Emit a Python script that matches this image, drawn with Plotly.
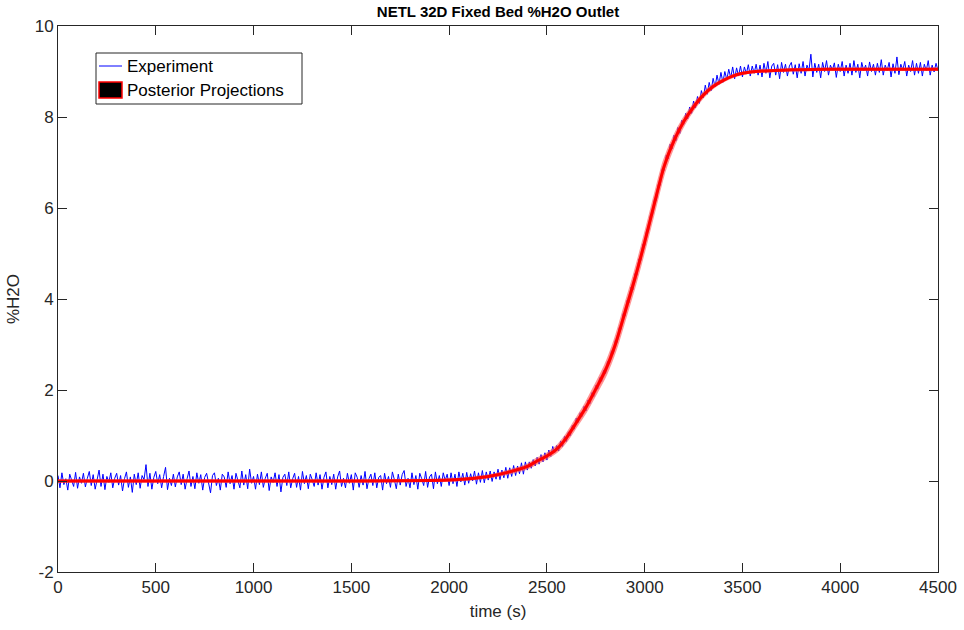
import plotly.graph_objects as go

# Experiment: %H2O at outlet, sampled every 10 s (0 .. 4500 s)
exp_time = [i * 10 for i in range(451)]
exp_h2o = [
    0.12, -0.15, 0.18, -0.08, 0.05, -0.2, 0.15, 0.03, -0.12, 0.19, -0.16, 0.09, -0.05, 0.17, -0.13, 0.06, 0.21, -0.1, 0.14, -0.18,
    0.08, 0.24, -0.12, 0.15, -0.19, 0.1, -0.03, 0.18, -0.15, 0.06, 0.17, -0.09, 0.12, -0.22, 0.05, 0.2, -0.14, 0.09, -0.25, 0.15,
    -0.08, 0.18, -0.16, 0.12, 0.03, 0.36, -0.12, 0.17, -0.18, 0.08, 0.21, -0.06, 0.14, -0.15, 0.1, 0.3, -0.19, 0.06, -0.1, 0.15,
    -0.13, 0.09, 0.2, -0.08, 0.15, -0.18, 0.05, 0.22, -0.12, 0.1, -0.17, 0.18, -0.05, 0.14, -0.2, 0.08, 0.17, -0.09, -0.26, 0.12,
    0.18, -0.1, 0.06, -0.2, 0.15, 0.09, -0.14, 0.2, -0.06, 0.12, -0.18, 0.17, 0.03, -0.15, 0.22, -0.09, 0.14, -0.17, 0.26, -0.05,
    0.1, -0.18, 0.15, -0.08, 0.2, -0.14, 0.06, 0.17, -0.21, 0.09, -0.03, 0.18, -0.12, 0.14, -0.24, 0.08, 0.15, -0.1, 0.2, -0.15,
    0.05, 0.17, -0.14, 0.1, -0.2, 0.21, -0.06, 0.12, -0.17, 0.15, 0.03, -0.12, 0.18, -0.09, 0.14, -0.18, 0.08, 0.2, -0.15, 0.1,
    -0.08, 0.15, -0.18, 0.09, 0.22, -0.12, 0.06, -0.15, 0.17, -0.05, 0.14, -0.2, 0.18, 0.08, -0.14, 0.12, -0.09, 0.21, -0.17, 0.05,
    0.15, -0.1, 0.18, -0.15, 0.08, 0.12, -0.2, 0.17, -0.06, 0.1, -0.14, 0.2, 0.03, -0.17, 0.15, -0.09, 0.14, 0.23, -0.12, 0.06,
    -0.15, 0.18, -0.08, 0.12, -0.18, 0.17, 0.05, -0.1, 0.21, -0.14, 0.09, 0.15, -0.17, 0.2, -0.06, 0.12, -0.12, 0.18, 0.01, 0.15,
    -0.1, 0.18, -0.06, 0.15, -0.12, 0.2, -0.02, 0.17, -0.09, 0.19, -0.05, 0.16, 0.0, 0.22, -0.07, 0.18, -0.03, 0.23, -0.04, 0.2,
    0.02, 0.22, -0.01, 0.2, 0.04, 0.26, 0.03, 0.24, 0.07, 0.3, 0.06, 0.29, 0.1, 0.34, 0.12, 0.33, 0.16, 0.4, 0.15, 0.42,
    0.24, 0.42, 0.28, 0.47, 0.33, 0.52, 0.37, 0.58, 0.42, 0.62, 0.46, 0.68, 0.54, 0.76, 0.62, 0.78, 0.66, 0.88, 0.76, 0.98,
    0.87, 1.08, 1.0, 1.22, 1.14, 1.38, 1.29, 1.5, 1.42, 1.64, 1.54, 1.78, 1.7, 1.94, 1.86, 2.1, 2.02, 2.27, 2.19, 2.44,
    2.36, 2.63, 2.58, 2.86, 2.8, 3.1, 3.05, 3.38, 3.34, 3.68, 3.63, 3.97, 3.92, 4.26, 4.2, 4.56, 4.52, 4.88, 4.84, 5.2,
    5.17, 5.52, 5.5, 5.86, 5.84, 6.2, 6.17, 6.52, 6.5, 6.87, 6.83, 7.16, 7.08, 7.4, 7.3, 7.6, 7.48, 7.77, 7.64, 7.93,
    7.84, 8.08, 7.96, 8.22, 8.08, 8.35, 8.2, 8.45, 8.3, 8.58, 8.42, 8.7, 8.5, 8.76, 8.58, 8.85, 8.66, 8.92, 8.72, 8.98,
    8.76, 9.0, 8.82, 9.05, 8.86, 9.1, 8.84, 9.08, 8.9, 9.12, 8.88, 9.1, 8.95, 9.15, 8.9, 9.12, 8.96, 9.16, 8.92, 9.14,
    8.88, 9.18, 8.96, 9.22, 8.86, 9.12, 9.18, 8.92, 9.15, 8.84, 9.2, 8.98, 9.16, 8.9, 9.12, 9.2, 8.94, 9.15, 8.86, 9.17,
    8.96, 9.22, 8.9, 9.14, 9.02, 9.38, 8.88, 9.18, 8.98, 9.16, 8.86, 9.2, 9.0, 9.24, 8.92, 9.14, 9.03, 9.19, 8.87, 9.16,
    9.0, 9.22, 8.9, 9.14, 8.96, 9.18, 8.92, 9.24, 8.98, 9.16, 8.86, 9.2, 9.02, 9.14, 8.9, 9.21, 9.0, 9.16, 8.92, 9.18,
    8.98, 9.26, 8.92, 9.14, 9.02, 9.2, 8.88, 9.17, 8.96, 9.32, 8.93, 9.16, 9.03, 9.22, 8.9, 9.14, 9.0, 9.24, 8.92, 9.18,
    8.96, 9.2, 8.9, 9.16, 9.02, 9.24, 8.92, 9.14, 8.99, 9.18, 9.02,
]

# Posterior projections (mean and spread)
post_time = [0, 500, 1000, 1500, 2000, 2100, 2200, 2300, 2400, 2450, 2500, 2550, 2600, 2650, 2700, 2750,
             2800, 2850, 2900, 2950, 3000, 3050, 3100, 3150, 3200, 3250, 3300, 3350, 3400, 3450, 3500,
             3600, 3700, 3800, 4000, 4500]
post_mean = [0, 0, 0, 0, 0.02, 0.05, 0.1, 0.19, 0.32, 0.44, 0.55, 0.7, 0.95, 1.28, 1.62, 2.02,
             2.44, 3.0, 3.72, 4.45, 5.25, 6.1, 6.92, 7.48, 7.9, 8.22, 8.48, 8.67, 8.8, 8.9, 8.96,
             9.01, 9.03, 9.04, 9.05, 9.05]
post_low = [0, 0, 0, 0, 0.02, 0.04, 0.09, 0.17, 0.29, 0.4, 0.51, 0.65, 0.89, 1.21, 1.54, 1.93,
            2.34, 2.89, 3.6, 4.33, 5.13, 5.98, 6.81, 7.4, 7.84, 8.18, 8.45, 8.65, 8.79, 8.89, 8.96,
            9.01, 9.03, 9.04, 9.05, 9.05]
post_high = [0, 0, 0, 0, 0.02, 0.06, 0.11, 0.21, 0.35, 0.48, 0.59, 0.75, 1.01, 1.35, 1.7, 2.11,
             2.54, 3.11, 3.84, 4.57, 5.37, 6.22, 7.03, 7.56, 7.96, 8.26, 8.51, 8.69, 8.81, 8.91, 8.96,
             9.01, 9.03, 9.04, 9.05, 9.05]

x_ticks = [0, 500, 1000, 1500, 2000, 2500, 3000, 3500, 4000, 4500]
y_ticks = [-2, 0, 2, 4, 6, 8, 10]
legend_labels = ["Experiment", "Posterior Projections"]

FONT = "Liberation Sans, Arial, Helvetica, sans-serif"
AX = "#262626"

# plot area in pixels
L, R, T, B = 58, 938, 26, 572
def px(xp):
    return (xp - L) / (R - L)
def py(yp):
    return (B - yp) / (B - T)

fig = go.Figure()

fig.add_trace(go.Scatter(
    x=exp_time, y=exp_h2o, mode="lines", name=legend_labels[0],
    line=dict(color="#0000ff", width=1), showlegend=False,
))

# posterior band (light red)
fig.add_trace(go.Scatter(
    x=post_time, y=post_low, mode="lines", line=dict(color="rgba(255,80,80,0.6)", width=3, shape="spline", smoothing=0.8),
    showlegend=False, hoverinfo="skip",
))
fig.add_trace(go.Scatter(
    x=post_time, y=post_high, mode="lines", line=dict(color="rgba(255,80,80,0.6)", width=3, shape="spline", smoothing=0.8),
    fill="tonexty", fillcolor="rgba(255,80,80,0.5)",
    showlegend=False, hoverinfo="skip",
))
fig.add_trace(go.Scatter(
    x=post_time, y=post_mean, mode="lines", line=dict(color="#ff0000", width=3, shape="spline", smoothing=0.8),
    name=legend_labels[1], showlegend=False, hoverinfo="skip",
))

# manual legend (MATLAB style)
shapes = [
    dict(type="rect", xref="paper", yref="paper", x0=px(96), x1=px(302), y0=py(104), y1=py(53),
         line=dict(color=AX, width=1), fillcolor="white", layer="above"),
    dict(type="line", xref="paper", yref="paper", x0=px(99), x1=px(122), y0=py(66), y1=py(66),
         line=dict(color="#0000ff", width=1), layer="above"),
    dict(type="rect", xref="paper", yref="paper", x0=px(99), x1=px(122), y0=py(98), y1=py(82),
         line=dict(color="red", width=1.5), fillcolor="black", layer="above"),
]
annotations = [
    dict(text=legend_labels[0], xref="paper", yref="paper", x=px(125), y=py(67), xanchor="left",
         yanchor="middle", showarrow=False, font=dict(size=17, color="black")),
    dict(text=legend_labels[1], xref="paper", yref="paper", x=px(125), y=py(90), xanchor="left",
         yanchor="middle", showarrow=False, font=dict(size=17, color="black")),
]

fig.update_layout(
    width=964, height=630,
    margin=dict(l=L, r=964 - R, t=T, b=630 - B),
    paper_bgcolor="white", plot_bgcolor="white",
    font=dict(family=FONT, size=17, color=AX),
    title=dict(text="<b>NETL 32D Fixed Bed %H2O Outlet</b>", x=498 / 964, xanchor="center",
               y=1 - 12 / 630, yanchor="middle", font=dict(size=15, color="black")),
    showlegend=False,
    shapes=shapes,
    annotations=annotations,
)

fig.update_xaxes(
    range=[0, 4500], tickvals=x_ticks, ticktext=[str(v) for v in x_ticks],
    showgrid=False, zeroline=False, showline=True, linecolor=AX, linewidth=1,
    mirror="ticks", ticks="inside", ticklen=9, tickcolor=AX, automargin=False,
    title=dict(text="time (s)", font=dict(size=17), standoff=8),
)
fig.update_yaxes(
    range=[-2, 10], tickvals=y_ticks, ticktext=[str(v) for v in y_ticks],
    showgrid=False, zeroline=False, showline=True, linecolor=AX, linewidth=1,
    mirror="ticks", ticks="inside", ticklen=9, tickcolor=AX, automargin=False,
    title=dict(text="%H2O", font=dict(size=17), standoff=10),
)

fig.write_html("out.html")
